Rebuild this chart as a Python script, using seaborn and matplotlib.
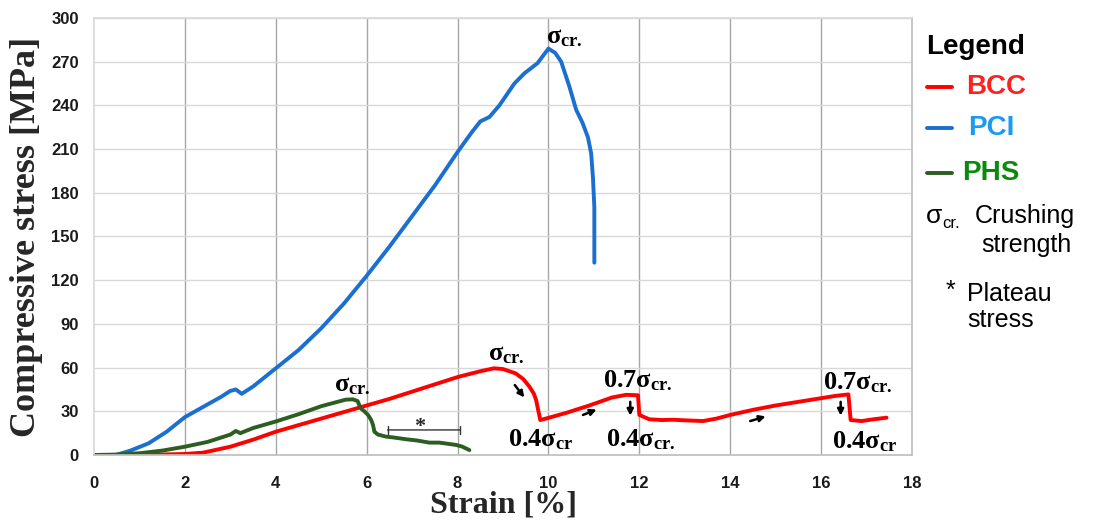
import matplotlib
matplotlib.use("Agg")
import matplotlib.pyplot as plt
import seaborn as sns

# strain [%] / stress [MPa]
pci_strain = [0.48, 0.8, 1.2, 1.6, 2.0, 2.4, 2.8, 3.0, 3.12, 3.25, 3.5, 4.0, 4.5, 5.0, 5.5, 6.0,
              6.5, 7.0, 7.5, 8.0, 8.3, 8.5, 8.7, 8.92, 9.25, 9.47, 9.76, 10.0, 10.15, 10.28,
              10.46, 10.61, 10.75, 10.87, 10.94, 10.98, 11.01, 11.01]
pci_stress = [0, 3, 8, 16, 26, 33, 40, 44, 45, 42, 47, 59.5, 72, 87, 104, 123,
              143, 164, 185, 208, 221, 229, 232, 240, 255, 262, 269, 279, 276, 270,
              253, 237, 228, 218, 207, 190, 170, 132]

phs_strain = [0, 0.5, 1.0, 1.5, 2.0, 2.5, 3.0, 3.12, 3.22, 3.5, 4.0, 4.5, 5.0, 5.3, 5.54, 5.7,
              5.8, 5.87, 5.95, 6.03, 6.1, 6.14, 6.17, 6.25, 6.43, 6.6, 6.87, 7.1, 7.38, 7.6,
              7.97, 8.1, 8.26]
phs_stress = [0, 0.3, 1.2, 3, 5.7, 9, 14, 16.5, 15, 18.5, 23, 28, 33.5, 36, 38, 38.2,
              37, 32, 30, 27.5, 24, 20.6, 16, 14, 12.6, 12, 10.8, 10, 8.5, 8.5,
              6.9, 5.8, 3.4]

bcc_strain = [0, 1.0, 2.0, 2.4, 3.0, 3.5, 4.0, 4.5, 5.0, 5.5, 6.0, 6.5, 7.0, 7.5, 8.0, 8.5,
              8.8, 9.0, 9.28, 9.45, 9.58, 9.68, 9.73, 9.78, 9.82, 10.0, 10.4, 10.9, 11.4,
              11.71, 11.97, 12.0, 12.22, 12.5, 12.74, 13.0, 13.4, 13.7, 14.0, 14.5, 15.0,
              15.5, 16.0, 16.3, 16.6, 16.65, 16.89, 17.15, 17.44]
bcc_stress = [0, 0, 0.7, 1.6, 5.7, 10.5, 16, 20.5, 25, 29.5, 34, 38.5, 43.5, 48.5, 53.5, 57.5,
              59.5, 59, 56, 52, 47, 42, 37.5, 30, 24, 25.5, 29, 34, 39.5,
              41.3, 41, 27.5, 24.5, 24, 24.2, 23.8, 23.3, 25, 27.5, 31, 34,
              36.5, 39, 40.5, 41.6, 24, 23.3, 24.5, 25.6]

# annotation labels: (text, x, y baseline)
labels = [
    (r"$\mathbf{σ}_{\mathbf{cr.}}$", 9.95, 282.6),
    (r"$\mathbf{σ}_{\mathbf{cr.}}$", 5.29, 43.4),
    (r"$\mathbf{σ}_{\mathbf{cr.}}$", 8.67, 65.2),
    (r"$\mathbf{0.4σ}_{\mathbf{cr}}$", 9.11, 6.2),
    (r"$\mathbf{0.7σ}_{\mathbf{cr.}}$", 11.2, 46.2),
    (r"$\mathbf{0.4σ}_{\mathbf{cr.}}$", 11.27, 5.7),
    (r"$\mathbf{0.7σ}_{\mathbf{cr.}}$", 16.04, 45.1),
    (r"$\mathbf{0.4σ}_{\mathbf{cr}}$", 16.25, 4.6),
]
# small arrows: (x0, y0, x1, y1)
arrows = [
    (9.26, 48, 9.47, 39.5),
    (10.76, 27.5, 11.06, 31.2),
    (11.8, 36.5, 11.8, 27.0),
    (14.44, 23.3, 14.78, 26.5),
    (16.43, 36.5, 16.43, 27.0),
]

sns.set_theme(style="white")
plt.rcParams["mathtext.fontset"] = "custom"
plt.rcParams["mathtext.rm"] = "Liberation Serif"
plt.rcParams["mathtext.bf"] = "Liberation Serif:bold"
plt.rcParams["mathtext.it"] = "Liberation Serif:italic"

fig = plt.figure(figsize=(10.96, 5.27), dpi=100)
ax = fig.add_axes([94 / 1096, 72 / 527, 818 / 1096, 437 / 527])

red = "#ff0000"
blue = "#1a6fd0"
green = "#2b5e20"

sns.lineplot(x=bcc_strain, y=bcc_stress, sort=False, estimator=None, color=red, lw=2.8, ax=ax)
sns.lineplot(x=pci_strain, y=pci_stress, sort=False, estimator=None, color=blue, lw=2.8, ax=ax)
sns.lineplot(x=phs_strain, y=phs_stress, sort=False, estimator=None, color=green, lw=2.8, ax=ax)

ax.set_xlim(0, 18)
ax.set_ylim(0, 300)
ax.set_xticks(range(0, 19, 2))
ax.set_yticks(range(0, 301, 30))
for x in range(2, 18, 2):
    ax.axvline(x, color="#a6a6a6", lw=1, zorder=0)
for y in range(30, 301, 30):
    ax.axhline(y, color="#d9d9d9", lw=1, zorder=0)
for s in ["left", "top"]:
    ax.spines[s].set_color("#d9d9d9")
ax.spines["bottom"].set_color("#bfbfbf")
ax.spines["right"].set_color("#bfbfbf")
ax.tick_params(axis="both", length=0, labelsize=12)
ax.tick_params(axis="y", pad=11)
ax.tick_params(axis="x", pad=15)
for t in ax.get_xticklabels() + ax.get_yticklabels():
    t.set_fontweight("bold")
    t.set_fontfamily("Liberation Sans")
    t.set_color("#1a1a1a")

ax.set_xlabel("Strain [%]", fontfamily="Liberation Serif", fontweight="bold", fontsize=23, labelpad=0)
ax.set_ylabel("Compressive stress [MPa]", fontfamily="Liberation Serif", fontweight="bold",
              fontsize=26, labelpad=6)

for txt, x, y in labels:
    ax.text(x, y, txt, fontsize=19, ha="left", va="baseline", color="black")

for x0, y0, x1, y1 in arrows:
    ax.annotate("", xy=(x1, y1), xytext=(x0, y0),
                arrowprops=dict(arrowstyle="-|>,head_length=0.3,head_width=0.15",
                                color="black", lw=1.8, shrinkA=0, shrinkB=0))

# plateau stress bar
ax.annotate("", xy=(6.46, 17.2), xytext=(8.05, 17.2),
            arrowprops=dict(arrowstyle="|-|,widthA=0.25,widthB=0.25", color="#333333", lw=1,
                            shrinkA=0, shrinkB=0))
ax.text(7.16, 19.5, "*", fontsize=16, ha="center", va="center", fontfamily="Liberation Serif",
        fontweight="bold")

# legend drawn as text on the right
W, H = 1096, 527


def ft(px, py, s, **kw):
    fig.text(px / W, 1 - py / H, s, va="center", ha="left", fontfamily="Liberation Sans", **kw)


ft(926, 47, "Legend", fontsize=20, fontweight="bold", color="black")
for py, col, tcol, name, tx in [(87, red, "#ff2020", "BCC", 966),
                                (128, blue, "#1a9bf0", "PCI", 968),
                                (173, green, "#0a8a0a", "PHS", 962)]:
    fig.add_artist(plt.Line2D([927 / W, 952 / W], [1 - py / H, 1 - py / H], color=col, lw=2.8))
    ft(tx, py, name, fontsize=20, fontweight="bold", color=tcol)
ft(926, 216, "σ", fontsize=19, color="black")
ft(942, 223, "cr.", fontsize=12, color="black")
ft(975, 216, "Crushing", fontsize=18, color="black")
ft(981, 245, "strength", fontsize=18, color="black")
ft(946, 291, "*", fontsize=18, color="black")
ft(967, 294, "Plateau", fontsize=18, color="black")
ft(967, 320, "stress", fontsize=18, color="black")

fig.savefig("out.png", dpi=100)
